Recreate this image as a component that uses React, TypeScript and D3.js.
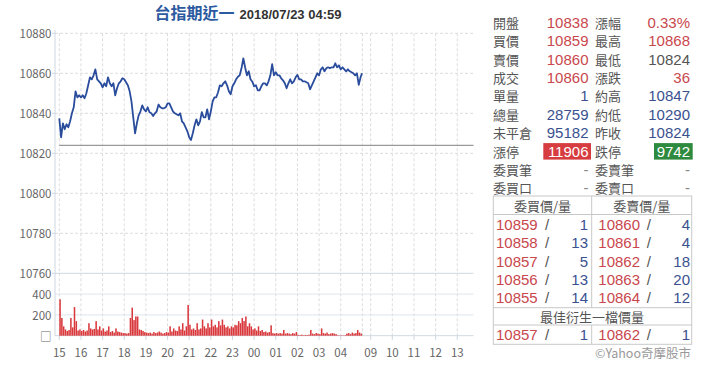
import React from 'react';
import * as d3 from 'd3';

const titleName = '台指期近一';
const titleStamp = '2018/07/23 04:59';

// 5-minute prices from 15:00 (night session) up to 04:59
const prices = [
  10837.5, 10828, 10835, 10832, 10834.5, 10833, 10836, 10840, 10843, 10851,
  10848, 10849, 10848, 10849, 10847.5, 10850, 10854, 10858, 10857, 10859,
  10862, 10857, 10856, 10855, 10853, 10855, 10853.5, 10858, 10855, 10853.5,
  10855, 10849, 10852.5, 10855, 10856, 10857.5, 10857, 10855.5, 10854, 10851,
  10846, 10838, 10830, 10835, 10839, 10841, 10844, 10842, 10841, 10843,
  10840.5, 10840, 10838.6, 10840, 10841, 10844.4, 10843, 10842.5, 10842.5, 10843,
  10845, 10845, 10843, 10841, 10840, 10839.5, 10839, 10840, 10836, 10835,
  10833, 10831, 10828, 10826.6, 10830, 10834, 10837, 10834, 10836, 10840.6,
  10838, 10838, 10842, 10837, 10841, 10846, 10848, 10848, 10850.5, 10854,
  10853.5, 10855, 10856, 10854, 10851, 10849.5, 10853.5, 10855, 10857, 10858.3,
  10859, 10862.5, 10867.5, 10863, 10859, 10861, 10857, 10855.8, 10853.5, 10854,
  10851.5, 10851.5, 10853.5, 10855, 10855, 10854, 10856, 10859, 10864.6, 10859,
  10860.5, 10859, 10859, 10857.5, 10856.5, 10855, 10852.5, 10855, 10857, 10855,
  10856, 10858, 10859.2, 10857, 10857, 10856, 10856, 10855.5, 10855, 10852,
  10854, 10856, 10858, 10860, 10859, 10862, 10863, 10861, 10862.5, 10863,
  10862.5, 10863, 10863, 10865, 10863, 10864, 10862, 10863, 10862, 10861,
  10862, 10861, 10860.5, 10860, 10859, 10860, 10854.2, 10858, 10860,
];

// 5-minute volume bars
const volumes = [
  350, 170, 90, 60, 45, 55, 170, 80, 275, 140,
  50, 60, 45, 55, 40, 50, 120, 70, 60, 65,
  140, 60, 90, 50, 70, 40, 50, 90, 35, 45,
  30, 70, 40, 35, 30, 25, 25, 20, 25, 170,
  270, 150, 185, 185, 60, 55, 45, 35, 30, 25,
  30, 20, 35, 25, 30, 40, 30, 20, 25, 35,
  30, 90, 40, 70, 50, 45, 90, 60, 120, 50,
  90, 295, 105, 60, 70, 55, 120, 60, 70, 155,
  90, 70, 120, 80, 155, 90, 105, 80, 140, 100,
  155, 105, 80, 90, 70, 90, 80, 105, 100, 140,
  120, 170, 140, 185, 90, 120, 90, 60, 70, 50,
  90, 45, 55, 35, 40, 30, 35, 100, 25, 20,
  25, 20, 25, 20, 55, 20, 25, 20, 15, 25,
  20, 35, 8, 6, 10, 5, 8, 6, 10, 55,
  20, 15, 25, 20, 15, 70, 25, 20, 30, 15,
  20, 25, 20, 15, 5, 3, 4, 3, 5, 20,
  25, 15, 30, 20, 25, 55, 30, 20,
];

const prevClose = 10824;
const priceTicks = [10880, 10860, 10840, 10820, 10800, 10780, 10760];
const volumeTicks = [400, 200, 0];
const volumeTickLabels = ['400', '200', '□'];
const nightHours = ['15', '16', '17', '18', '19', '20', '21', '22', '23', '00', '01', '02', '03', '04'];
const dayHours = ['09', '10', '11', '12', '13'];

const quoteLabelsL = ['開盤', '買價', '賣價', '成交', '單量', '總量', '未平倉', '漲停', '委買筆', '委買口'];
const quoteValuesL = ['10838', '10859', '10860', '10860', '1', '28759', '95182', '11906', '-', '-'];
const quoteTonesL = ['up', 'up', 'up', 'up', 'vol', 'vol', 'vol', 'limitUp', 'none', 'none'];
const quoteLabelsR = ['漲幅', '最高', '最低', '漲跌', '約高', '約低', '昨收', '跌停', '委賣筆', '委賣口'];
const quoteValuesR = ['0.33%', '10868', '10824', '36', '10847', '10290', '10824', '9742', '-', '-'];
const quoteTonesR = ['up', 'up', 'flat', 'up', 'vol', 'vol', 'vol', 'limitDown', 'none', 'none'];

const bidPrices = ['10859', '10858', '10857', '10856', '10855'];
const bidSizes = ['1', '13', '5', '13', '14'];
const askPrices = ['10860', '10861', '10862', '10863', '10864'];
const askSizes = ['4', '4', '18', '20', '12'];
const bestBid = ['10857', '1'];
const bestAsk = ['10862', '1'];

const STEP = 5; // minutes per sample
const NIGHT_END = 840; // 05:00
const DAY_NINE = 863; // index of 09:00 on the compressed axis
const AXIS_END = 1148; // 13:45

const RED = '#c9474d';
const BLUE = '#3a5190';
const GRAY = '#555';
const FONT = '"Noto Sans CJK TC", "Noto Sans", sans-serif';
const NUM = '"Liberation Sans", Arial, sans-serif';

const toneColor = (t: string) =>
  t === 'up' ? RED : t === 'vol' ? BLUE : t === 'flat' ? GRAY : t === 'none' ? '#888' : '#fff';

const App: React.FC = () => {
  const x = d3.scaleLinear().domain([0, AXIS_END]).range([59.3, 473.5]);
  const y = d3.scaleLinear().domain([10760, 10880]).range([273.3, 33.3]);
  const yv = d3.scaleLinear().domain([0, 600]).range([335.7, 273.3]);

  const priceMinute = (i: number) => Math.min(i * STEP, NIGHT_END - 1);
  const line = d3.line<number>()
    .x((_, i) => x(priceMinute(i)))
    .y(d => y(d));

  const hourTicks = [
    ...nightHours.map((h, i) => ({ label: h, m: i * 60 })),
    ...dayHours.map((h, i) => ({ label: h, m: DAY_NINE + i * 60 })),
  ];
  const gridX = [...hourTicks.map(t => t.m), NIGHT_END];

  const left = 55;
  const right = x(AXIS_END);
  const barW = x(STEP) - x(0);

  const rowY = (i: number) => 22.3 + i * 18.4;
  const bookY = (i: number) => 224.3 + i * 18.35;

  const bookRow = (key: string, yy: number, bp: string, bs: string, ap: string, as: string) => (
    <g key={key} fontSize={15} fontFamily={NUM}>
      <text x={496} y={yy} dominantBaseline="central" fill={RED}>{bp}</text>
      <text x={545} y={yy} dominantBaseline="central" fill={GRAY}>/</text>
      <text x={588} y={yy} dominantBaseline="central" textAnchor="end" fill={BLUE}>{bs}</text>
      <text x={598.3} y={yy} dominantBaseline="central" fill={RED}>{ap}</text>
      <text x={646.7} y={yy} dominantBaseline="central" fill={GRAY}>/</text>
      <text x={690} y={yy} dominantBaseline="central" textAnchor="end" fill={BLUE}>{as}</text>
    </g>
  );

  return (
    <svg width={720} height={388} style={{ position: 'absolute', left: 0, top: 0, background: '#fff' }}
      fontFamily={FONT}>
      {/* title */}
      <text x={248} y={19} textAnchor="middle">
        <tspan fontSize={16} fontWeight="bold" fill="#2c5aa0">{titleName}</tspan>
        <tspan dx={5} fontSize={13} fontWeight="bold" fill="#333" fontFamily={NUM}>{titleStamp}</tspan>
      </text>

      {/* grid */}
      {gridX.map((m, i) => (
        <line key={'gx' + i} x1={x(m)} x2={x(m)} y1={33.3} y2={335.7} stroke="#dcdcdc" strokeDasharray="3,2" />
      ))}
      {priceTicks.slice(0, -1).map(v => (
        <line key={'gy' + v} x1={left} x2={right} y1={y(v)} y2={y(v)} stroke="#dcdcdc" strokeDasharray="3,2" />
      ))}
      <line x1={left} x2={right} y1={y(10760)} y2={y(10760)} stroke="#cfd8e2" />
      {volumeTicks.slice(0, -1).map(v => (
        <line key={'gv' + v} x1={left} x2={right} y1={yv(v)} y2={yv(v)} stroke="#dfe5ec" />
      ))}

      {/* axes */}
      <line x1={left} x2={left} y1={30} y2={335.7} stroke="#cfd8e2" />
      <line x1={left} x2={right} y1={335.7} y2={335.7} stroke="#cfd8e2" />
      {priceTicks.map(v => (
        <g key={'py' + v}>
          <line x1={left - 3} x2={left} y1={y(v)} y2={y(v)} stroke="#cfd8e2" />
          <text x={51.5} y={y(v)} dominantBaseline="central" textAnchor="end" fontSize={11.5} fill="#666">{v}</text>
        </g>
      ))}
      {volumeTicks.map((v, i) => (
        <text key={'vy' + v} x={51.5} y={yv(v)} dominantBaseline="central" textAnchor="end" fontSize={11.5} fill="#666">
          {volumeTickLabels[i]}
        </text>
      ))}
      {hourTicks.map(t => (
        <g key={'hx' + t.m}>
          <line x1={x(t.m)} x2={x(t.m)} y1={335.7} y2={340} stroke="#cfd8e2" />
          <text x={x(t.m)} y={352} dominantBaseline="central" textAnchor="middle" fontSize={11.5} fill="#666">{t.label}</text>
        </g>
      ))}

      {/* previous close */}
      <line x1={x(0)} x2={right} y1={y(prevClose)} y2={y(prevClose)} stroke="#9a9a9a" strokeWidth={1.2} />

      {/* volume */}
      {volumes.map((v, i) => (
        <rect key={'v' + i} x={x(i * STEP)} y={yv(v)} width={barW * 0.85} height={yv(0) - yv(v)} fill="#d9383c" />
      ))}

      {/* price */}
      <path d={line(prices) || ''} fill="none" stroke="#2a4c9c" strokeWidth={1.8} strokeLinejoin="round" />

      {/* quote panel */}
      {quoteLabelsL.map((lab, i) => (
        <g key={'q' + i}>
          <text x={493} y={rowY(i)} dominantBaseline="central" fill={GRAY} fontSize={13}>{lab}</text>
          {quoteTonesL[i] === 'limitUp' && (
            <rect x={543.3} y={rowY(i) - 8} width={47.7} height={16.5} fill="#d63c40" />
          )}
          <text x={588.5} y={rowY(i)} dominantBaseline="central" textAnchor="end" fill={toneColor(quoteTonesL[i])}
            fontSize={15} fontFamily={NUM}>
            {quoteValuesL[i]}
          </text>
          <text x={595} y={rowY(i)} dominantBaseline="central" fill={GRAY} fontSize={13}>{quoteLabelsR[i]}</text>
          {quoteTonesR[i] === 'limitDown' && (
            <rect x={654} y={rowY(i) - 8} width={38.7} height={16.5} fill="#2e8a3e" />
          )}
          <text x={690} y={rowY(i)} dominantBaseline="central" textAnchor="end" fill={toneColor(quoteTonesR[i])}
            fontSize={15} fontFamily={NUM}>
            {quoteValuesR[i]}
          </text>
        </g>
      ))}

      {/* order book */}
      <g stroke="#c8c8c8" fill="none">
        <rect x={493.3} y={196} width={198.4} height={148.3} />
        <line x1={591.7} x2={591.7} y1={196} y2={307.7} />
        <line x1={591.7} x2={591.7} y1={325} y2={344.3} />
        <line x1={493.3} x2={691.7} y1={214.5} y2={214.5} />
        <line x1={493.3} x2={691.7} y1={307.7} y2={307.7} />
        <line x1={493.3} x2={691.7} y1={325} y2={325} />
      </g>
      <text x={542.5} y={205.5} dominantBaseline="central" textAnchor="middle" fontSize={13} fill={GRAY}>委買價/量</text>
      <text x={641.7} y={205.5} dominantBaseline="central" textAnchor="middle" fontSize={13} fill={GRAY}>委賣價/量</text>
      {bidPrices.map((p, i) => bookRow('b' + i, bookY(i), p, bidSizes[i], askPrices[i], askSizes[i]))}
      <text x={592} y={316.2} dominantBaseline="central" textAnchor="middle" fontSize={13} fill={GRAY}>最佳衍生一檔價量</text>
      {bookRow('best', 334.5, bestBid[0], bestBid[1], bestAsk[0], bestAsk[1])}
      <text x={691} y={352} dominantBaseline="central" textAnchor="end" fontSize={12.5} fill="#999">©Yahoo奇摩股市</text>
    </svg>
  );
};

export default App;
